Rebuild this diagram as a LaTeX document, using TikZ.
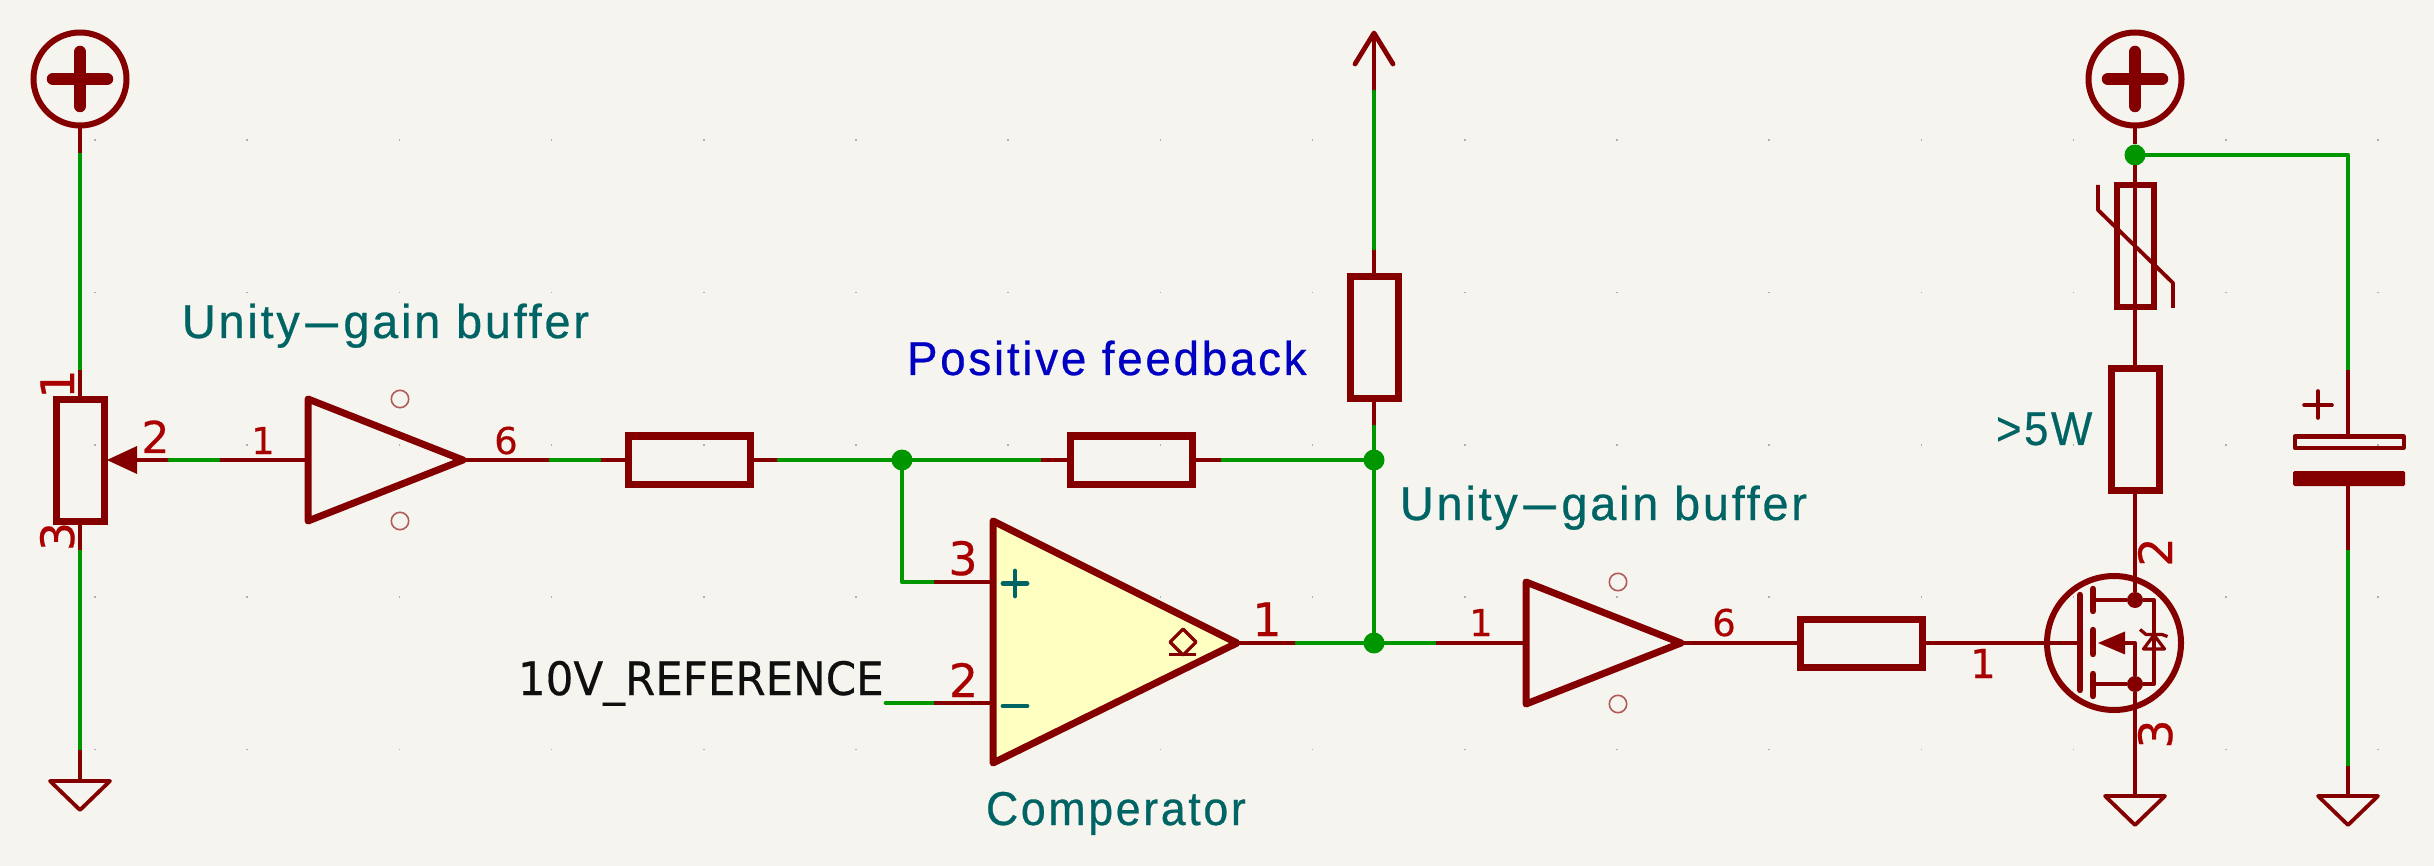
\documentclass[tikz,border=0pt]{standalone}
\usepackage{fontspec}
\usepackage{graphicx}
\setmainfont{Liberation Sans}
\newfontfamily\kf[LetterSpace=6,FakeBold=0.6]{Liberation Sans}
\newfontfamily\kd[FakeBold=0.4]{DejaVu Sans}
\definecolor{bgc}{HTML}{F5F4EF}
\definecolor{sym}{HTML}{840000}
\definecolor{pinnum}{HTML}{A90000}
\definecolor{wirec}{HTML}{009600}
\definecolor{teal}{HTML}{006464}
\definecolor{bluec}{HTML}{0000C2}
\definecolor{fillc}{HTML}{FFFFC2}
\definecolor{blk}{HTML}{0F0F0F}
\definecolor{gridc}{HTML}{B0B0B0}
\definecolor{nc}{HTML}{B05A5A}
\newcommand{\Lsize}{\fontsize{47.5}{50}\selectfont}
\newcommand{\hyph}{\scalebox{2.8}[1]{-}}
\tikzset{
  x=1pt,y=-1pt,
  wirel/.style={draw=wirec,line width=4.8pt,line cap=round},
  pinl/.style={draw=sym,line width=4.8pt},
  body/.style={draw=sym,line width=7pt,line join=round},
  thinl/.style={draw=sym,line width=3.8pt,line join=round},
  junction/.style={circle,fill=wirec,draw=none,minimum size=21pt,inner sep=0pt,outer sep=0pt},
  hres/.style={rectangle,draw=sym,line width=7pt,minimum width=122pt,minimum height=48pt,inner sep=0pt,outer sep=0pt},
  vres/.style={rectangle,draw=sym,line width=7pt,minimum width=48pt,minimum height=122pt,inner sep=0pt,outer sep=0pt},
  dots/.style={fill=sym,circle,inner sep=0pt,outer sep=0pt,minimum size=16pt},
  txt/.style={inner sep=0pt,outer sep=0pt,anchor=base west},
  num/.style={inner sep=0pt,outer sep=0pt,anchor=base,text=pinnum,font=\kd\fontsize{46}{48}\selectfont},
  numsm/.style={inner sep=0pt,outer sep=0pt,anchor=base,text=pinnum,font=\kd\fontsize{37}{39}\selectfont},
  plussym/.pic={
    \draw[draw=sym,line width=6pt] (0,0) circle[radius=46.5];
    \draw[draw=sym,line width=12.5pt,line cap=round] (-27,0) -- (27,0) (0,-27) -- (0,27);
  },
  gndsym/.pic={
    \draw[thinl] (-30,0) -- (30,0) -- (0,29) -- cycle;
  },
  bufsym/.pic={
    \draw[body] (0,-61) -- (155,0) -- (0,61) -- cycle;
    \draw[draw=nc,line width=1.6pt] (92,-61) circle[radius=8.7] (92,61) circle[radius=8.7];
  }
}
\begin{document}
\begin{tikzpicture}
\fill[bgc] (0,0) rectangle (2434,866);
\useasboundingbox (0,0) rectangle (2434,866);
% grid
\foreach \i in {0,...,15}{\foreach \j in {0,...,4}{
  \fill[gridc] ({95+152.2*\i-0.8},{140+152.4*\j-0.8}) rectangle ++(1.6,1.6);
}}
% left power + pot
\pic at (80,79) {plussym};
\pic at (80,781) {gndsym};
\coordinate (pwrL) at (80,127);
\coordinate (a1) at (80,153);
\coordinate (a2) at (80,370);
\node[vres] (pot) at (80,460.5) {};
\coordinate (a3) at (80,550);
\coordinate (a4) at (80,750);
\coordinate (gndL) at (80,780);
\draw[pinl] (pwrL) -- (a1) (a2) -- (pot.north) (pot.south) -- (a3) (a4) -- (gndL);
\draw[wirel,line cap=butt] (a1) -- (a2) (a3) -- (a4);
\fill[sym] (107,460) -- (137,446) -- (137,474) -- cycle;
\coordinate (wiperEnd) at (137,460);
\coordinate (b1) at (170,460);
\coordinate (b2) at (218,460);
\coordinate (buf1in) at (308,460);
\coordinate (buf1out) at (463,460);
\draw[pinl] (wiperEnd) -- (b1) (b2) -- (buf1in);
\draw[wirel] (b1) -- (b2);
\pic at (308,460) {bufsym};
% R1
\node[hres] (r1) at (689,460) {};
\coordinate (c1) at (551,460);
\coordinate (c2) at (599,460);
\coordinate (c3) at (779,460);
\node[junction] (j1) at (902,460) {};
\draw[pinl] (buf1out) -- (c1) (c2) -- (r1.west) (r1.east) -- (c3);
\draw[wirel] (c1) -- (c2) (c3) -- (j1);
% R2
\node[hres] (r2) at (1131,460) {};
\coordinate (d1) at (1041,460);
\coordinate (d2) at (1221,460);
\node[junction] (j2) at (1374,460) {};
\draw[wirel] (j1) -- (d1) (d2) -- (j2);
\draw[pinl] (d1) -- (r2.west) (r2.east) -- (d2);
% R3 + arrow
\node[vres] (r3) at (1374,338) {};
\coordinate (e0) at (1374,33);
\coordinate (e1) at (1374,92);
\coordinate (e2) at (1374,248);
\coordinate (e3) at (1374,427);
\draw[pinl] (e0) -- (e1) (e2) -- (r3.north) (r3.south) -- (e3);
\draw[wirel] (e1) -- (e2) (e3) -- (j2);
\draw[draw=sym,line width=4.8pt,line cap=round,line join=round] (1355,64) -- (e0) -- (1393,64);
% comparator
\draw[body,fill=fillc] (993,521) -- (1237,643) -- (993,763) -- cycle;
\draw[draw=teal,line width=4.8pt,line cap=round] (1003,583.5) -- (1027,583.5) (1015,571) -- (1015,596);
\draw[draw=teal,line width=4.8pt,line cap=round] (1003,706) -- (1027,706);
\draw[draw=sym,line width=3.2pt,line join=round] (1183,629) -- (1196,642) -- (1183,655) -- (1170,642) -- cycle;
\draw[draw=sym,line width=3.2pt] (1169,654.5) -- (1196,654.5);
\coordinate (f0) at (902,582);
\coordinate (f1) at (934,582);
\coordinate (f2) at (993,582);
\coordinate (g0) at (886,703);
\coordinate (g1) at (934,703);
\coordinate (g2) at (993,703);
\draw[wirel,line join=round] (j1) -- (f0) -- (f1);
\draw[wirel] (g0) -- (g1);
\draw[pinl] (f1) -- (f2) (g1) -- (g2);
\coordinate (h0) at (1237,643);
\coordinate (h1) at (1297,643);
\node[junction] (j3) at (1374,643) {};
\draw[pinl] (h0) -- (h1);
\draw[wirel] (h1) -- (j3) (j2) -- (j3);
% buffer 2
\coordinate (k1) at (1436,643);
\coordinate (buf2in) at (1526,643);
\coordinate (buf2out) at (1681,643);
\draw[wirel] (j3) -- (k1);
\draw[pinl] (k1) -- (buf2in);
\pic at (1526,643) {bufsym};
\node[hres] (r4) at (1861,643) {};
\draw[pinl] (buf2out) -- (r4.west);
% MOSFET
\draw[draw=sym,line width=6pt] (2114,643) circle[radius=67];
\coordinate (gateBar) at (2080,643);
\draw[pinl] (r4.east) -- (gateBar);
\draw[draw=sym,line width=6.4pt,line cap=round] (2080,595) -- (2080,690);
\draw[draw=sym,line width=6.4pt,line cap=round] (2093,589) -- (2093,611) (2093,630) -- (2093,654) (2093,674) -- (2093,696);
\node[dots] (drain) at (2135,600) {};
\node[dots] (source) at (2135,684) {};
\draw[draw=sym,line width=3.8pt,line join=round] (2093,600) -- (drain) -- (2154,600) -- (2154,684) -- (source) -- (2093,684);
\draw[draw=sym,line width=3.8pt,line join=round] (2120,643) -- (2135,643) -- (source);
\fill[sym] (2098,643) -- (2125,631.5) -- (2125,654.5) -- cycle;
\draw[draw=sym,line width=3.2pt,line join=round] (2154,635) -- (2143.5,649) -- (2164.5,649) -- cycle;
\draw[draw=sym,line width=3.2pt,line join=round] (2140,629.5) -- (2146,634.5) -- (2162,634.5) -- (2167.5,636.5);
% right power column
\pic at (2135,79) {plussym};
\node[junction] (j4) at (2135,155) {};
\coordinate (pwrR) at (2135,127);
\node[rectangle,draw=sym,line width=6pt,minimum width=37pt,minimum height=122pt,inner sep=0pt,outer sep=0pt] (th) at (2135,246.5) {};
\node[vres] (r5) at (2135,429.5) {};
\draw[pinl] (pwrR) -- (j4) -- (r5.north);
\draw[pinl] (r5.south) -- (drain);
\draw[pinl] (source) -- (2135,795);
\draw[draw=sym,line width=3.8pt,line join=round] (2098,185) -- (2098,210) -- (2173,283) -- (2173,308);
\pic at (2135,796) {gndsym};
% capacitor
\coordinate (m0) at (2348,155);
\coordinate (m1) at (2348,370);
\coordinate (m2) at (2348,436);
\coordinate (m3) at (2348,486);
\coordinate (m4) at (2348,550);
\coordinate (m5) at (2348,766);
\coordinate (m6) at (2348,795);
\draw[wirel,line join=round] (j4) -- (m0) -- (m1);
\draw[pinl] (m1) -- (m2) (m3) -- (m4) (m5) -- (m6);
\draw[wirel,line cap=butt] (m4) -- (m5);
\draw[thinl,line width=4pt] (2294.5,436.5) rectangle (2403.5,447.5);
\fill[sym,rounded corners=1.5pt] (2293,471) rectangle (2405,486);
\draw[draw=sym,line width=3.6pt,line cap=round] (2304,405) -- (2332,405) (2318,391) -- (2318,418);
\pic at (2348,796) {gndsym};
% texts
\node[txt,text=teal] (t1) at (182,338) {\kf\Lsize\scalebox{.985}[1]{Unity\hyph gain buffer}};
\node[txt,text=teal] (t2) at (1400,520) {\kf\Lsize\scalebox{.985}[1]{Unity\hyph gain buffer}};
\node[txt,text=bluec] (t3) at (907,375) {\kf\Lsize\scalebox{.963}[1]{Positive feedback}};
\node[txt,text=teal] (t4) at (986,825) {\kf\Lsize\scalebox{.94}[1]{Comperator}};
\node[txt,text=blk] (t5) at (518,695) {\kd\fontsize{46}{48}\selectfont\scalebox{.947}[1]{10V\_REFERENCE}};
\node[txt,text=teal] (t6) at (1996,445) {\kf\Lsize\scalebox{.92}[1]{>5W}};
% pin numbers
\node[num,rotate=90] (p1) at (74,384) {1};
\node[num,rotate=90] (p2) at (74,536.5) {3};
\node[num,font=\kd\fontsize{44}{46}\selectfont] (p3) at (155.5,453) {2};
\node[numsm] (p4) at (263,454) {1};
\node[numsm] (p5) at (506,454) {6};
\node[num] (p6) at (963,575) {3};
\node[num] (p7) at (963.5,697) {2};
\node[num] (p8) at (1267,636) {1};
\node[numsm] (p9) at (1481,636) {1};
\node[numsm] (p10) at (1724,636) {6};
\node[num,font=\kd\fontsize{40}{42}\selectfont] (p11) at (1983,678) {1};
\node[num,rotate=90] (p12) at (2172,552) {2};
\node[num,rotate=90] (p13) at (2172,734) {3};
\end{tikzpicture}
\end{document}
